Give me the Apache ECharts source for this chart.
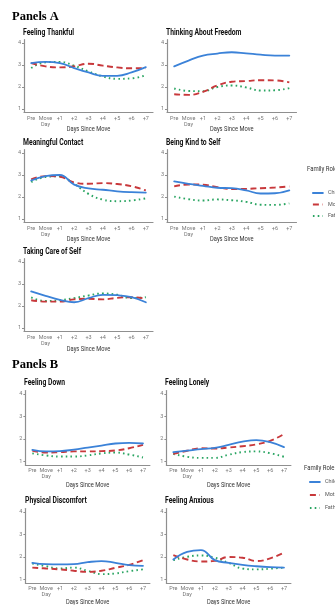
<!DOCTYPE html>
<html>
<head>
<meta charset="utf-8">
<script src="https://cdn.jsdelivr.net/npm/echarts@6/dist/echarts.min.js"></script>
<style>
  html, body { margin: 0; padding: 0; background: #fff; }
  #chart { width: 335px; height: 605px; }
</style>
</head>
<body>
<div id="chart"></div>
<script>
// Categories and tick values shared by every panel
const days = ['Pre', 'Move\nDay', '+1', '+2', '+3', '+4', '+5', '+6', '+7'];
const roles = ['Child', 'Mother', 'Father'];
const yTicks = [1, 2, 3, 4];

// Panels A: smoothed daily means per family role
const thankfulChild  = [3.09, 3.14, 3.09, 2.86, 2.66, 2.51, 2.51, 2.66, 2.90];
const thankfulMother = [3.09, 2.94, 2.89, 2.94, 3.06, 2.97, 2.89, 2.85, 2.85];
const thankfulFather = [2.86, 3.12, 3.14, 2.97, 2.71, 2.48, 2.37, 2.39, 2.54];

const freedomChild  = [2.94, 3.20, 3.43, 3.52, 3.58, 3.53, 3.47, 3.43, 3.43];
const freedomMother = [1.67, 1.64, 1.78, 2.07, 2.24, 2.27, 2.31, 2.30, 2.21];
const freedomFather = [1.93, 1.82, 1.81, 2.00, 2.07, 1.98, 1.84, 1.85, 1.95];

const contactChild  = [2.75, 2.95, 3.00, 2.56, 2.39, 2.33, 2.26, 2.22, 2.20];
const contactMother = [2.80, 2.95, 2.92, 2.66, 2.60, 2.63, 2.59, 2.49, 2.30];
const contactFather = [2.68, 2.91, 2.94, 2.60, 2.14, 1.88, 1.81, 1.84, 1.94];

const kindChild  = [2.71, 2.60, 2.51, 2.42, 2.40, 2.30, 2.16, 2.17, 2.30];
const kindMother = [2.48, 2.57, 2.56, 2.45, 2.36, 2.37, 2.40, 2.43, 2.48];
const kindFather = [2.02, 1.90, 1.84, 1.89, 1.85, 1.78, 1.65, 1.64, 1.71];

const careChild  = [2.66, 2.46, 2.28, 2.17, 2.36, 2.51, 2.49, 2.40, 2.17];
const careMother = [2.26, 2.20, 2.20, 2.30, 2.33, 2.30, 2.37, 2.40, 2.33];
const careFather = [2.39, 2.23, 2.26, 2.36, 2.48, 2.57, 2.51, 2.36, 2.40];

// Panels B
const downChild  = [1.52, 1.45, 1.46, 1.53, 1.62, 1.71, 1.80, 1.83, 1.80];
const downMother = [1.49, 1.40, 1.42, 1.45, 1.45, 1.46, 1.49, 1.59, 1.74];
const downFather = [1.36, 1.27, 1.22, 1.22, 1.27, 1.36, 1.40, 1.31, 1.18];

const lonelyChild  = [1.42, 1.48, 1.55, 1.61, 1.74, 1.88, 1.95, 1.86, 1.64];
const lonelyMother = [1.34, 1.48, 1.59, 1.58, 1.62, 1.68, 1.76, 1.92, 2.22];
const lonelyFather = [1.34, 1.21, 1.16, 1.16, 1.30, 1.42, 1.45, 1.37, 1.21];

const discomfortChild  = [1.74, 1.68, 1.67, 1.68, 1.77, 1.82, 1.74, 1.64, 1.61];
const discomfortMother = [1.53, 1.49, 1.45, 1.39, 1.34, 1.39, 1.52, 1.65, 1.86];
const discomfortFather = [1.71, 1.59, 1.49, 1.53, 1.39, 1.24, 1.27, 1.37, 1.45];

const anxiousChild  = [1.89, 2.23, 2.31, 1.86, 1.74, 1.65, 1.59, 1.55, 1.53];
const anxiousMother = [2.08, 1.89, 1.80, 1.83, 2.00, 1.97, 1.82, 1.94, 2.19];
const anxiousFather = [1.86, 2.01, 2.07, 1.97, 1.74, 1.49, 1.45, 1.48, 1.53];

// Panel layout: title, plot box and the three role series
const panels = [
  { title: 'Feeling Thankful',       tx: 23,  ty: 33,  left: 24,    top: 39.7,  w: 129,   h: 72.6, axisY: 129, lines: [thankfulChild, thankfulMother, thankfulFather] },
  { title: 'Thinking About Freedom', tx: 166, ty: 33,  left: 167,   top: 39.7,  w: 129.5, h: 72.6, axisY: 129, lines: [freedomChild, freedomMother, freedomFather] },
  { title: 'Meaningful Contact',     tx: 23,  ty: 143, left: 24,    top: 149.7, w: 129,   h: 72.6, axisY: 239, lines: [contactChild, contactMother, contactFather] },
  { title: 'Being Kind to Self',     tx: 166, ty: 143, left: 167,   top: 149.7, w: 129.5, h: 72.6, axisY: 239, lines: [kindChild, kindMother, kindFather] },
  { title: 'Taking Care of Self',    tx: 23,  ty: 252, left: 24,    top: 258.7, w: 129,   h: 72.6, axisY: 349, lines: [careChild, careMother, careFather] },
  { title: 'Feeling Down',           tx: 24,  ty: 383, left: 25.4,  top: 390.6, w: 124.5, h: 74.3, axisY: 485, lines: [downChild, downMother, downFather] },
  { title: 'Feeling Lonely',         tx: 165, ty: 383, left: 166.4, top: 390.6, w: 124.5, h: 74.3, axisY: 485, lines: [lonelyChild, lonelyMother, lonelyFather] },
  { title: 'Physical Discomfort',    tx: 25,  ty: 501, left: 25.4,  top: 508.6, w: 124.5, h: 74.3, axisY: 602, lines: [discomfortChild, discomfortMother, discomfortFather] },
  { title: 'Feeling Anxious',        tx: 165, ty: 501, left: 166.4, top: 508.6, w: 124.5, h: 74.3, axisY: 602, lines: [anxiousChild, anxiousMother, anxiousFather] }
];

// Line look for each role: solid blue, dashed red, dotted green
const roleStyles = [
  { color: '#3b82d8', width: 1.8, type: 'solid', cap: 'round' },
  { color: '#c8383b', width: 1.9, type: [6, 3.6], cap: 'butt' },
  { color: '#2aa562', width: 1.9, type: [1.6, 3.2], cap: 'butt' }
];

const axisGray = '#8f8f8f';
const grid = [], xAxis = [], yAxis = [], series = [], graphic = [];

function label(text, x, y, font, fill, align, scaleX) {
  graphic.push({
    type: 'text', x: x, y: y, scaleX: scaleX, silent: true,
    style: { text: text, font: font, fill: fill, textAlign: align, textVerticalAlign: 'middle' }
  });
}

label('Panels A', 12, 17, 'bold 12.5px "Liberation Serif"', '#000', 'left', 1);
label('Panels B', 12, 365, 'bold 12.5px "Liberation Serif"', '#000', 'left', 1);

panels.forEach(function (p, i) {
  grid.push({ left: p.left, top: p.top, width: p.w, height: p.h });
  xAxis.push({
    type: 'category', gridIndex: i, data: days, boundaryGap: true,
    axisLine: { lineStyle: { color: axisGray, width: 1.2 } },
    axisTick: { alignWithLabel: true, length: 2, lineStyle: { color: axisGray } },
    axisLabel: { interval: 0, fontSize: 5.5, lineHeight: 6, color: '#777', margin: 3, fontFamily: 'Roboto' },
    splitLine: { show: false }
  });
  yAxis.push({
    type: 'value', gridIndex: i, min: 0.85, max: 4.15,
    axisLine: { show: true, lineStyle: { color: axisGray, width: 1.2 } },
    axisTick: { show: true, length: 2, customValues: yTicks, lineStyle: { color: axisGray } },
    axisLabel: { customValues: yTicks, fontSize: 5.5, color: '#777', margin: 3, fontFamily: 'Roboto' },
    splitLine: { show: false }
  });
  p.lines.forEach(function (vals, r) {
    const s = roleStyles[r];
    series.push({
      type: 'line', name: roles[r], xAxisIndex: i, yAxisIndex: i,
      data: vals, smooth: 0.45, symbol: 'none', silent: true,
      lineStyle: { color: s.color, width: s.width, type: s.type, cap: s.cap },
      itemStyle: { color: s.color },
      z: 3 - r
    });
  });
  label(p.title, p.tx, p.ty, 'bold 8.5px Roboto', '#111', 'left', 0.8);
  label('Days Since Move', p.left + p.w / 2, p.axisY, '7px Roboto', '#333', 'center', 0.82);
});

// Legend headings
label('Family Role', 307, 169, '7px Roboto', '#333', 'left', 0.85);
label('Family Role', 304, 468, '7px Roboto', '#333', 'left', 0.85);

// Legend keys show only the line stroke of each role
const legendText = { fontSize: 5.5, color: '#555', fontFamily: 'Roboto' };
const legendCommon = {
  data: roles, orient: 'vertical', itemWidth: 10, itemHeight: 5,
  textStyle: legendText, selectedMode: false,
  itemStyle: { opacity: 0 }, lineStyle: { width: 1.8, opacity: 1 }
};
const legend = [
  Object.assign({ left: 307, top: 185, itemGap: 5.5 }, legendCommon),
  Object.assign({ left: 304, top: 474, itemGap: 7 }, legendCommon)
];

const chart = echarts.init(document.getElementById('chart'), null, { renderer: 'canvas' });
chart.setOption({
  animation: false,
  backgroundColor: '#fff',
  grid: grid, xAxis: xAxis, yAxis: yAxis, series: series,
  legend: legend, graphic: graphic
});
</script>
</body>
</html>
